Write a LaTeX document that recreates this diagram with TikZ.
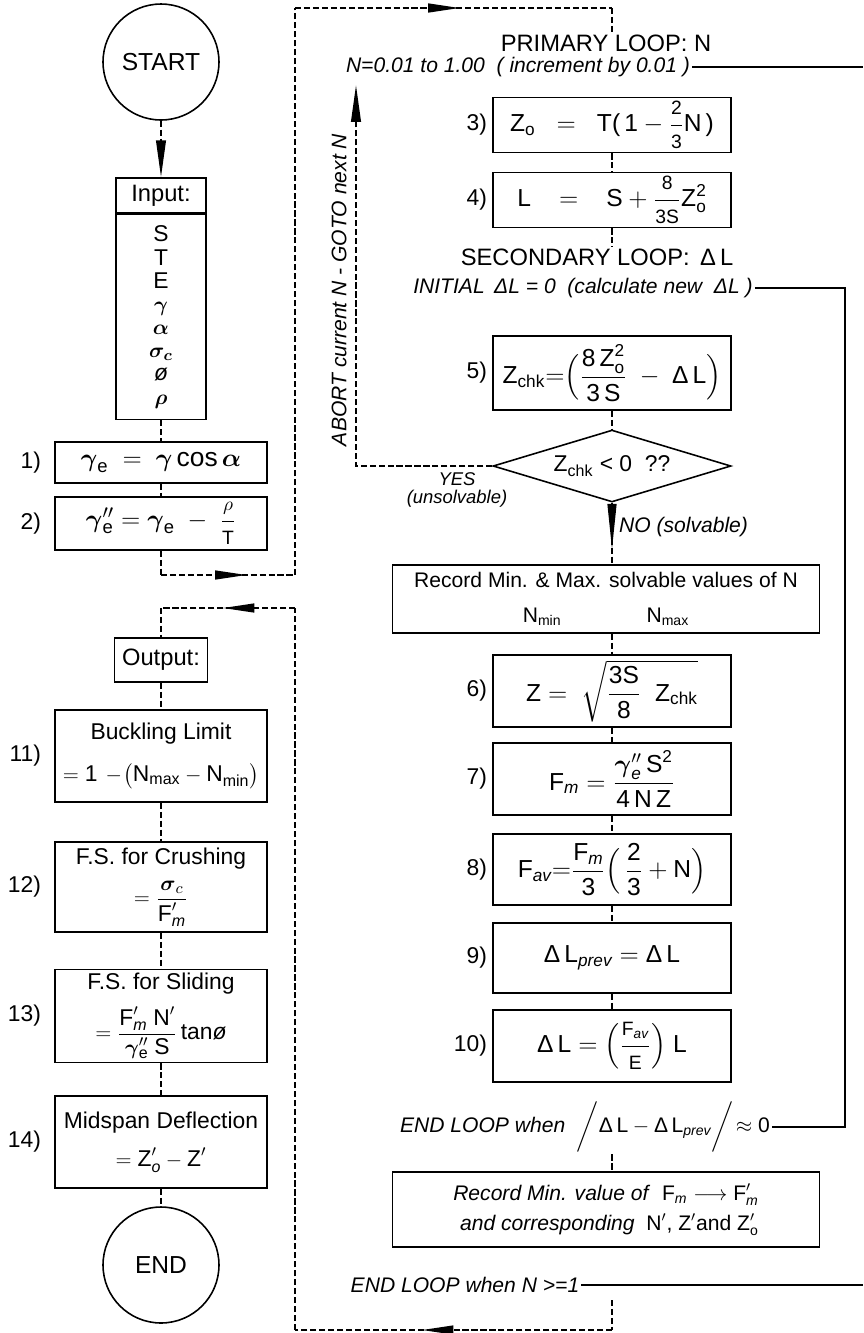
\documentclass[tikz,border=0pt]{standalone}
\usepackage{fontspec}
\setmainfont{Liberation Sans}
\usepackage{amsmath}
\usetikzlibrary{arrows.meta, positioning, shapes.geometric, decorations.markings}

\newcommand{\fv}[1]{\text{\upshape #1}}
\newcommand{\fvi}[1]{\text{\itshape #1}}
\newcommand{\bgr}[1]{\boldsymbol{#1}}
\newcommand{\mfr}[2]{\dfrac{\text{\fontsize{11}{11}\selectfont\upshape #1}}{\text{\fontsize{11}{11}\selectfont\upshape #2}}}

\begin{document}
\begin{tikzpicture}[
    x=0.02cm, y=-0.02cm,
    box/.style={rectangle, draw, line width=0.9pt, minimum width=4.24cm,
                align=center, inner sep=2pt, font=\fontsize{13}{17}\selectfont},
    rbox/.style={box, minimum width=4.76cm, font=\fontsize{14}{17}\selectfont},
    wbox/.style={box, minimum width=8.54cm, font=\fontsize{12}{20}\selectfont},
    term/.style={circle, draw, line width=0.9pt, minimum size=2.32cm,
                 font=\fontsize{14}{16}\selectfont},
    lbl/.style={inner sep=0pt, font=\fontsize{13}{15}\selectfont},
    head/.style={inner sep=1pt, font=\fontsize{13.5}{16}\selectfont},
    note/.style={inner sep=1pt, font=\fontsize{12}{14}\selectfont\itshape},
    dline/.style={line width=1.1pt, dash pattern=on 3.5pt off 1.6pt},
    lline/.style={line width=0.7pt},
    midarr/.style={decoration={markings,
                   mark=at position #1 with {\arrow{Triangle[length=18pt, width=5pt]}}},
                   postaction={decorate}},
    longarr/.style={decoration={markings,
                   mark=at position #1 with {\arrow{Triangle[length=26pt, width=5pt]}}},
                   postaction={decorate}},
    wedge/.style={-{Triangle[length=21pt, width=5.5pt]}}
  ]
  \useasboundingbox (0,0) rectangle (863,1333);

  % left column: input
  \node[term] (start) at (161,62) {START};
  \node[box, head, minimum width=1.8cm, minimum height=0.7cm] (inhead) at (161,195.5) {Input:};
  \node[box, minimum width=1.8cm, minimum height=4.1cm, anchor=north,
        font=\fontsize{13}{13.2}\selectfont] (inbody) at (inhead.south)
        {S\\T\\E\\$\bgr{\gamma}$\\$\bgr{\alpha}$\\$\bgr{\sigma_{c}}$\\\textit{ø}\\$\bgr{\rho}$};
  \node[box, minimum height=0.82cm, font=\fontsize{15}{17}\selectfont] (b1) at (161,462.5)
        {$\bgr{\gamma}_{\fv{e}} \;=\; \bgr{\gamma}\,\fv{cos}\,\bgr{\alpha}$};
  \node[box, minimum height=1.06cm, font=\fontsize{15}{17}\selectfont] (b2) at (161,523.5)
        {$\bgr{\gamma}''_{\fv{e}} = \bgr{\gamma}_{\fv{e}} \;-\; \mfr{$\rho$}{T}$};
  \node[lbl, left=0.26cm of b1] (n1) {1)};
  \node[lbl, left=0.26cm of b2] (n2) {2)};

  % left column: output
  \node[box, head, minimum width=1.86cm, minimum height=0.88cm] (out) at (161,660) {Output:};
  \node[box, minimum height=1.84cm] (b11) at (161,756)
        {Buckling Limit\\[7pt] $=\fv{1}\,-\!\bigl(\fv{N}_{\fv{max}} - \fv{N}_{\fv{min}}\bigr)$};
  \node[box, minimum height=1.8cm] (b12) at (161,887)
        {F.S. for Crushing\\[6pt] $=\dfrac{\bgr{\sigma}_{c}}{\fv{F}'_{\fvi{m}}}$};
  \node[box, minimum height=1.84cm] (b13) at (161,1016)
        {F.S. for Sliding\\[6pt] $=\dfrac{\fv{F}'_{\fvi{m}}\;\fv{N}'}{\bgr{\gamma}''_{\fv{e}}\;\fv{S}}\,\fv{tan\textit{ø}}$};
  \node[box, minimum height=1.84cm] (b14) at (161,1142)
        {Midspan Deflection\\[5pt] $=\fv{Z}'_{\fvi{o}} - \fv{Z}'$};
  \node[term] (end) at (161,1265) {END};
  \node[lbl, left=0.26cm of b11] (n11) {11)};
  \node[lbl, left=0.26cm of b12] (n12) {12)};
  \node[lbl, left=0.26cm of b13] (n13) {13)};
  \node[lbl, left=0.26cm of b14] (n14) {14)};

  % primary loop
  \node[head] (t1) at (606,43) {PRIMARY LOOP: N};
  \node[note] (s1) at (518,67) {N=0.01 to 1.00 \ ( increment by 0.01 )};
  \node[rbox, minimum height=1.08cm] (b3) at (612,125)
        {$\fv{Z}_{\fv{o}} \;\;=\;\; \fv{T(\,1}-\mfr{2}{3}\fv{N\,)}$};
  \node[rbox, minimum height=1.08cm] (b4) at (612,200)
        {$\fv{L} \;\;\;=\;\;\; \fv{S}+\mfr{8}{3S}\fv{Z}^{\fv{2}}_{\fv{o}}$};
  \node[lbl, left=0.1cm of b3] (n3) {3)};
  \node[lbl, left=0.1cm of b4] (n4) {4)};

  % secondary loop
  \node[head] (t2) at (597,257) {SECONDARY LOOP: \,Δ\,L};
  \node[note] (s2) at (583,288) {INITIAL \,ΔL = 0 \ (calculate new \ ΔL )};
  \node[rbox, minimum height=1.48cm] (b5) at (612,373)
        {$\fv{Z}_{\fv{chk}}{=}\Bigl(\dfrac{\fv{8\,Z}^{\fv{2}}_{\fv{o}}}{\fv{3\,S}} \;-\; \fv{Δ\,L}\Bigr)$};
  \node[diamond, draw, line width=0.9pt, aspect=3.3, inner sep=0pt,
        minimum width=4.76cm, minimum height=1.44cm,
        font=\fontsize{13}{15}\selectfont] (dec) at (612,466) {Z\textsubscript{chk} < 0 \ ??};
  \node[note, align=center, font=\fontsize{10.5}{10}\selectfont\itshape] (yes) at (457,490) {YES\\(unsolvable)};
  \node[note, anchor=west] (no) at (617,527) {NO (solvable)};
  \node[note, rotate=90] (abort) at (339,290) {ABORT current N - GOTO next N};
  \node[lbl, left=0.1cm of b5] (n5) {5)};

  \node[wbox, minimum height=1.36cm] (rec1) at (606,599)
        {Record Min. \& Max. solvable values of N\\N\textsubscript{min}\hspace{1.7cm}N\textsubscript{max}};
  \node[rbox, minimum height=1.44cm] (b6) at (612,691)
        {$\fv{Z} = \;\sqrt{\dfrac{\fv{3S}}{\fv{8}}\;\;\fv{Z}_{\fv{chk}}}$};
  \node[rbox, minimum height=1.44cm] (b7) at (612,779)
        {$\fv{F}_{\fvi{m}} = \dfrac{\bgr{\gamma}''_{\fvi{e}}\,\fv{S}^{\fv{2}}}{\fv{4\,N\,Z}}$};
  \node[rbox, minimum height=1.42cm] (b8) at (612,869.5)
        {$\fv{F}_{\fvi{av}}{=}\dfrac{\fv{F}_{\fvi{m}}}{\fv{3}}\Bigl(\,\dfrac{\fv{2}}{\fv{3}} + \fv{N}\Bigr)$};
  \node[rbox, minimum height=1.4cm] (b9) at (612,958)
        {$\fv{Δ\,L}_{\fvi{prev}} = \fv{Δ\,L}$};
  \node[rbox, minimum height=1.44cm] (b10) at (612,1046)
        {$\fv{Δ\,L} = \Bigl(\mfr{F\textsubscript{\itshape av}}{E}\Bigr)\;\fv{L}$};
  \node[lbl, left=0.1cm of b6] (n6) {6)};
  \node[lbl, left=0.1cm of b7] (n7) {7)};
  \node[lbl, left=0.1cm of b8] (n8) {8)};
  \node[lbl, left=0.1cm of b9] (n9) {9)};
  \node[lbl, left=0.1cm of b10] (n10) {10)};

  \node[note] (el1) at (585,1127)
        {END LOOP when \ $\bigg/\fv{Δ\,L}-\fv{Δ\,L}_{\fvi{prev}}\bigg/\!\approx \fv{0}$};
  \node[wbox, minimum height=1.5cm, align=right, font=\fontsize{12}{17}\selectfont] (rec2) at (606,1209.5)
        {\textit{Record Min. value of}\ \ $\fv{F}_{\fvi{m}} \longrightarrow \fv{F}'_{\fvi{m}}$\\
         \textit{and corresponding}\ \ $\fv{N}'$, $\fv{Z}'$and $\fv{Z}'_{\fv{o}}$};
  \node[note] (el2) at (465,1285) {END LOOP when N >=1};

  % turning points
  \coordinate (k1) at (161,575);
  \coordinate (k2) at (295,575);
  \coordinate (k3) at (295,8);
  \coordinate (k4) at (612,8);
  \coordinate (a1) at (356,466);
  \coordinate (a2) at (356,85);
  \coordinate (e1) at (863,0);
  \coordinate (e2) at (845,0);
  \coordinate (r0) at (612,1300);
  \coordinate (r1) at (612,1330);
  \coordinate (r2) at (295,1330);
  \coordinate (r3) at (295,608);
  \coordinate (r4) at (161,608);

  % left flow
  \draw[dline, wedge] (start) -- (inhead);
  \draw[dline] (inbody) -- (b1);
  \draw[dline] (b1) -- (b2);
  \draw[dline] (b2) -- (k1);
  \draw[dline, midarr=0.64] (k1) -- (k2);
  \draw[dline] (k2) -- (k3);
  \draw[dline, midarr=0.52] (k3) -- (k4);
  \draw[dline] (k4) -- (k4 |- t1.north);

  % loop body
  \draw[dline] (b3) -- (b4);
  \draw[dline] (b4) -- (b4.south |- t2.north);
  \draw[dline] (b5) -- (dec);
  \draw[dline, longarr=0.76] (dec.south) -- (dec.south |- rec1.north);
  \draw[dline, wedge] (dec.west) -- (a1) -- (a2);
  \draw[dline] (b6 |- rec1.south) -- (b6);
  \draw[dline] (b6) -- (b7);
  \draw[dline] (b7) -- (b8);
  \draw[dline] (b8) -- (b9);
  \draw[dline] (b9) -- (b10);
  \draw[dline] (b10 |- el1.south) -- (b10 |- rec2.north);

  % loop limits
  \draw[lline] (s1.east) -- (s1.east -| e1);
  \draw[lline] (s2.east) -- (s2.east -| e2) |- (el1.east);
  \draw[lline] (el2.east) -- (el2.east -| e1);

  % back to output
  \draw[dline] (r0) -- (r1);
  \draw[dline, midarr=0.6] (r1) -- (r2);
  \draw[dline] (r2) -- (r3);
  \draw[dline, midarr=0.54] (r3) -- (r4);
  \draw[dline] (r4) -- (out);
  \draw[dline] (out) -- (b11);
  \draw[dline] (b11) -- (b12);
  \draw[dline] (b12) -- (b13);
  \draw[dline] (b13) -- (b14);
  \draw[dline] (b14) -- (end);
\end{tikzpicture}
\end{document}
